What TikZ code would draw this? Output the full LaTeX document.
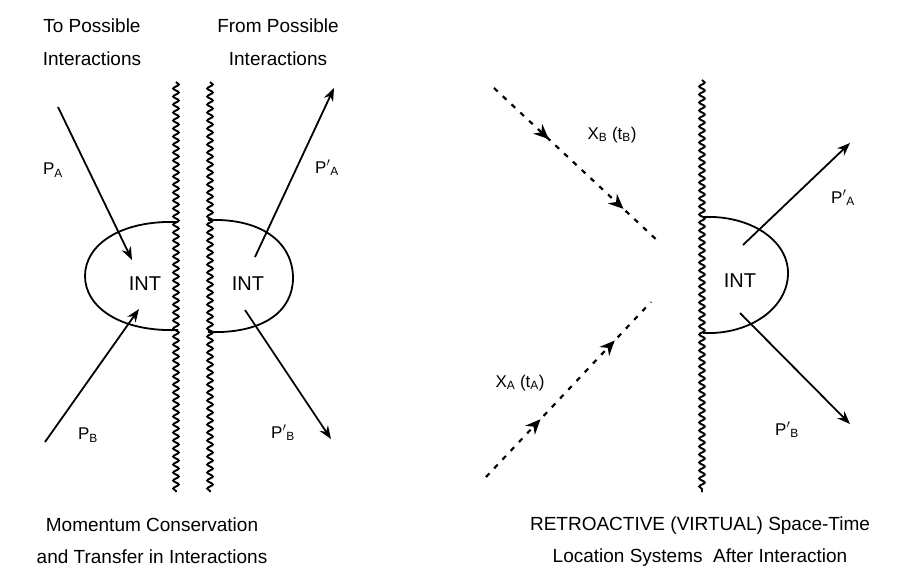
\documentclass[tikz,border=0pt]{standalone}
\usepackage{fontspec}
\setmainfont{Liberation Sans}
\usetikzlibrary{arrows.meta,decorations.pathmorphing,decorations.markings}

\tikzset{
  wall/.style={line width=1.9pt, decorate,
    decoration={snake, amplitude=2.8pt, segment length=8pt}},
  lobe/.style={line width=1.8pt},
  momentum/.style={line width=1.8pt, -{Stealth[length=13pt,width=10pt]}},
  retro/.style={line width=2.2pt, dash pattern=on 5pt off 7pt,
    postaction={decorate},
    decoration={markings,
      mark=at position 0.33 with {\arrow{Stealth[length=15pt,width=13pt]}},
      mark=at position 0.78 with {\arrow{Stealth[length=15pt,width=13pt]}}}},
  inttext/.style={font=\fontsize{20}{22}\selectfont},
  lbl/.style={font=\fontsize{17}{19}\selectfont},
  heading/.style={align=center, font=\fontsize{19}{33}\selectfont},
  caption/.style={align=center, font=\fontsize{19}{32}\selectfont}
}

\begin{document}
\begin{tikzpicture}[x=1pt,y=-1pt]
\useasboundingbox (0,0) rectangle (923,576);

% headings
\node[heading] (hdTo) at (92,42) {To Possible\\Interactions};
\node[heading] (hdFrom) at (278,42) {From Possible\\Interactions};

% left panel: two walls
\coordinate (wallAtop) at (176,82);
\coordinate (wallAbot) at (176,492);
\coordinate (wallBtop) at (210,82);
\coordinate (wallBbot) at (210,492);
\draw[wall] (wallAtop) -- (wallAbot);
\draw[wall] (wallBtop) -- (wallBbot);

\draw[lobe] (178,222) .. controls (120,220) and (85,245) .. (85,276)
  .. controls (85,307) and (120,332) .. (178,330);
\draw[lobe] (208,220) .. controls (265,218) and (293,245) .. (293,278)
  .. controls (293,310) and (265,334) .. (208,332);

\node[inttext] (intL) at (145,284) {INT};
\node[inttext] (intM) at (248,284) {INT};

\coordinate (pAin) at (58,107);
\coordinate (pAout) at (132,260);
\coordinate (pBin) at (45,442);
\coordinate (pBout) at (139,309);
\coordinate (pApin) at (255,257);
\coordinate (pApout) at (334,88);
\coordinate (pBpin) at (245,310);
\coordinate (pBpout) at (331,439);
\draw[momentum] (pAin) -- (pAout);
\draw[momentum] (pBin) -- (pBout);
\draw[momentum] (pApin) -- (pApout);
\draw[momentum] (pBpin) -- (pBpout);

\node[lbl] (lblPA) at (53,170) {P\textsubscript{A}};
\node[lbl] (lblPB) at (88,435) {P\textsubscript{B}};
\node[lbl] (lblPpA) at (327,168) {P$'$\textsubscript{A}};
\node[lbl] (lblPpB) at (283,433) {P$'$\textsubscript{B}};

% right panel
\coordinate (wallCtop) at (702,80);
\coordinate (wallCbot) at (702,492);
\draw[wall] (wallCtop) -- (wallCbot);
\draw[lobe] (703,217) .. controls (750,215) and (788,240) .. (788,273)
  .. controls (788,308) and (750,335) .. (703,333);
\node[inttext] (intR) at (740,281) {INT};

\coordinate (qAin) at (743,245);
\coordinate (qAout) at (850,143);
\coordinate (qBin) at (740,313);
\coordinate (qBout) at (850,424);
\draw[momentum] (qAin) -- (qAout);
\draw[momentum] (qBin) -- (qBout);
\node[lbl] (lblQpA) at (843,198) {P$'$\textsubscript{A}};
\node[lbl] (lblQpB) at (787,430) {P$'$\textsubscript{B}};

\coordinate (xBin) at (494,88);
\coordinate (xBout) at (660,243);
\coordinate (xAin) at (486,477);
\coordinate (xAout) at (651,302);
\draw[retro] (xBin) -- (xBout);
\draw[retro] (xAin) -- (xAout);
\node[lbl] (lblXB) at (612,135) {X\textsubscript{B} (t\textsubscript{B})};
\node[lbl] (lblXA) at (520,383) {X\textsubscript{A} (t\textsubscript{A})};

% captions
\node[caption] (capL) at (152,541) {Momentum Conservation\\and Transfer in Interactions};
\node[caption] (capR) at (700,542) {RETROACTIVE (VIRTUAL) Space-Time\\Location Systems\ \ After Interaction};
\end{tikzpicture}
\end{document}
